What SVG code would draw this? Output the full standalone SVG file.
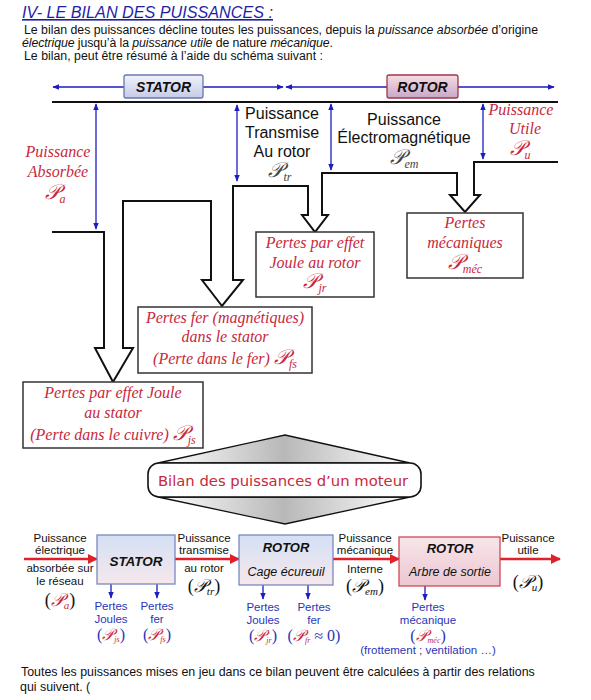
<svg xmlns="http://www.w3.org/2000/svg" width="591" height="700" viewBox="0 0 591 700">
<defs>
<style>
.s{font-family:"Liberation Sans",Arial,sans-serif;}
.r{font-family:"Liberation Serif","Times New Roman",serif;font-style:italic;fill:#c8283c;}
.pipe{fill:none;stroke:#111;stroke-width:2;}
.box{fill:#fff;stroke:#333;stroke-width:1.5;}
.blu{stroke:#1c1cc0;stroke-width:1.3;fill:none;}
.red{stroke:#e0202a;stroke-width:2.5;fill:none;}
.bt{font-family:"Liberation Sans",Arial,sans-serif;font-size:11.5px;fill:#111;text-anchor:middle;}
.bl{font-family:"Liberation Sans",Arial,sans-serif;font-size:11.5px;fill:#2a35b8;text-anchor:middle;}
.m{font-family:"Liberation Serif","Times New Roman",serif;}
</style>
<marker id="ab" viewBox="0 0 10 10" refX="9" refY="5" markerWidth="7" markerHeight="7" markerUnits="userSpaceOnUse" orient="auto-start-reverse"><path d="M0,1 L10,5 L0,9 z" fill="#1c1cc0"/></marker>
<marker id="ar" viewBox="0 0 10 10" refX="9" refY="5" markerWidth="4" markerHeight="4" orient="auto"><path d="M0,0 L10,5 L0,10 z" fill="#e0202a"/></marker>
<linearGradient id="gs" x1="0" y1="0" x2="0" y2="1"><stop offset="0" stop-color="#f0f2fa"/><stop offset="1" stop-color="#c6cbe6"/></linearGradient>
<linearGradient id="gr" x1="0" y1="0" x2="0" y2="1"><stop offset="0" stop-color="#f6dce4"/><stop offset="1" stop-color="#c8a8c8"/></linearGradient>
<linearGradient id="gb" x1="0" y1="0" x2="0" y2="1"><stop offset="0" stop-color="#d4e0f4"/><stop offset="1" stop-color="#f6e8ec"/></linearGradient>
<linearGradient id="gp" x1="0" y1="0" x2="0" y2="1"><stop offset="0" stop-color="#f8e6ea"/><stop offset="1" stop-color="#ecc6d0"/></linearGradient>
<linearGradient id="gd" x1="0" y1="0" x2="1" y2="0"><stop offset="0" stop-color="#ffffff"/><stop offset="0.5" stop-color="#b8b8b8"/><stop offset="1" stop-color="#ffffff"/></linearGradient>
</defs>
<rect width="591" height="700" fill="#fff"/>

<g id="header">
<text x="22" y="18" font-family="Liberation Sans,Arial,sans-serif" font-size="16" font-style="italic" fill="#1e1ea8" text-decoration="underline" textLength="251" lengthAdjust="spacingAndGlyphs">IV- LE BILAN DES PUISSANCES :</text>
<text class="s" x="24" y="34" font-size="12.3" fill="#111" textLength="514">Le bilan des puissances décline toutes les puissances, depuis la <tspan font-style="italic">puissance absorbée</tspan> d’origine</text>
<text class="s" x="22" y="47" font-size="12.3" fill="#111" textLength="311"><tspan font-style="italic">électrique</tspan> jusqu’à la <tspan font-style="italic">puissance utile</tspan> de nature <tspan font-style="italic">mécanique</tspan>.</text>
<text class="s" x="24" y="60" font-size="12.3" fill="#111" textLength="299">Le bilan, peut être résumé à l’aide du schéma suivant :</text>
</g>

<g id="connectors">
<line class="blu" x1="124" y1="87" x2="53" y2="87" marker-end="url(#ab)"/>
<line class="blu" x1="203" y1="87" x2="283" y2="87" marker-end="url(#ab)"/>
<line class="blu" x1="387" y1="87" x2="286" y2="87" marker-end="url(#ab)"/>
<line class="blu" x1="458" y1="87" x2="554" y2="87" marker-end="url(#ab)"/>
<line x1="52" y1="102" x2="558" y2="102" stroke="#111" stroke-width="2"/>
<line class="blu" x1="96" y1="104" x2="96" y2="229" marker-start="url(#ab)" marker-end="url(#ab)"/>
<line class="blu" x1="237" y1="105" x2="237" y2="181" marker-start="url(#ab)" marker-end="url(#ab)"/>
<line class="blu" x1="331" y1="104" x2="331" y2="170" marker-start="url(#ab)" marker-end="url(#ab)"/>
<line class="blu" x1="483" y1="104" x2="483" y2="159" marker-start="url(#ab)" marker-end="url(#ab)"/>
<path class="pipe" d="M52,232 H104 V348 H95 L113,382 L133,348 H123 V201 H211 V280 H202 L222,306 L243,280 H233 V186 H308 V215 H302 L315,232 L328,215 H322 V173 H457 V195 H450 L465,212 L480,195 H474 V162 H558"/>
<line class="red" x1="24" y1="559" x2="97" y2="559" marker-end="url(#ar)"/>
<line class="red" x1="175" y1="559" x2="239" y2="559" marker-end="url(#ar)"/>
<line class="red" x1="333" y1="559" x2="399" y2="559" marker-end="url(#ar)"/>
<line class="red" x1="500" y1="559" x2="560" y2="559" marker-end="url(#ar)"/>
<line class="blu" x1="111" y1="584" x2="111" y2="598" marker-end="url(#ab)"/>
<line class="blu" x1="157" y1="584" x2="157" y2="598" marker-end="url(#ab)"/>
<line class="blu" x1="263" y1="585" x2="263" y2="599" marker-end="url(#ab)"/>
<line class="blu" x1="308" y1="585" x2="308" y2="599" marker-end="url(#ab)"/>
<line class="blu" x1="425" y1="586" x2="425" y2="600" marker-end="url(#ab)"/>
</g>

<g id="stator-top">
<rect x="124" y="75" width="79" height="23" rx="2" fill="url(#gs)" stroke="#6878b0" stroke-width="1.3"/>
<text class="s" x="163.5" y="92" font-size="14" font-weight="bold" font-style="italic" text-anchor="middle" fill="#111">STATOR</text>
</g>
<g id="rotor-top">
<rect x="387" y="75" width="71" height="23" rx="2" fill="url(#gr)" stroke="#a03848" stroke-width="1.3"/>
<text class="s" x="422.5" y="92" font-size="14" font-weight="bold" font-style="italic" text-anchor="middle" fill="#111">ROTOR</text>
</g>

<g id="label-pa">
<text class="r" x="58" y="157" font-size="16" text-anchor="middle">Puissance</text>
<text class="r" x="58" y="177" font-size="16" text-anchor="middle">Absorbée</text>
<text class="r" x="55" y="199" font-size="21" text-anchor="middle">𝒫<tspan font-size="12" dy="4">a</tspan></text>
</g>
<g id="label-ptr">
<text class="s" x="282" y="119" font-size="16" text-anchor="middle" fill="#111">Puissance</text>
<text class="s" x="282" y="138" font-size="16" text-anchor="middle" fill="#111">Transmise</text>
<text class="s" x="282" y="157" font-size="16" text-anchor="middle" fill="#111">Au rotor</text>
<text class="m" x="280" y="177" font-size="21" font-style="italic" text-anchor="middle" fill="#444">𝒫<tspan font-size="12" dy="4">tr</tspan></text>
</g>
<g id="label-pem">
<text class="s" x="404" y="125" font-size="16" text-anchor="middle" fill="#111">Puissance</text>
<text class="s" x="404" y="143" font-size="16" text-anchor="middle" fill="#111">Électromagnétique</text>
<text class="m" x="404" y="164" font-size="21" font-style="italic" text-anchor="middle" fill="#444">𝒫<tspan font-size="12" dy="4">em</tspan></text>
</g>
<g id="label-pu">
<text class="r" x="521" y="115" font-size="16" text-anchor="middle">Puissance</text>
<text class="r" x="525" y="134" font-size="16" text-anchor="middle">Utile</text>
<text class="r" x="520" y="155" font-size="21" text-anchor="middle">𝒫<tspan font-size="12" dy="4">u</tspan></text>
</g>

<g id="box-pjr">
<rect class="box" x="256" y="232" width="118" height="65"/>
<text class="r" x="315" y="248" font-size="16" text-anchor="middle">Pertes par effet</text>
<text class="r" x="315" y="268" font-size="16" text-anchor="middle">Joule au rotor</text>
<text class="r" x="315" y="288" font-size="21" text-anchor="middle">𝒫<tspan font-size="12" dy="4">jr</tspan></text>
</g>
<g id="box-pmec">
<rect class="box" x="407" y="213" width="116" height="65"/>
<text class="r" x="465" y="228" font-size="16" text-anchor="middle">Pertes</text>
<text class="r" x="465" y="248" font-size="16" text-anchor="middle">mécaniques</text>
<text class="r" x="465" y="269" font-size="21" text-anchor="middle">𝒫<tspan font-size="12" dy="4">méc</tspan></text>
</g>
<g id="box-pfs">
<rect class="box" x="138" y="307" width="174" height="66"/>
<text class="r" x="225" y="323" font-size="16" text-anchor="middle">Pertes fer (magnétiques)</text>
<text class="r" x="225" y="342" font-size="16" text-anchor="middle">dans le stator</text>
<text class="r" x="225" y="364" font-size="16" text-anchor="middle">(Perte dans le fer)  <tspan font-size="21">𝒫</tspan><tspan font-size="12" dy="4">fs</tspan></text>
</g>
<g id="box-pjs">
<rect class="box" x="23" y="382" width="180" height="66"/>
<text class="r" x="113" y="398" font-size="16" text-anchor="middle">Pertes par effet Joule</text>
<text class="r" x="113" y="418" font-size="16" text-anchor="middle">au stator</text>
<text class="r" x="113" y="440" font-size="16" text-anchor="middle">(Perte dans le cuivre) <tspan font-size="21">𝒫</tspan><tspan font-size="12" dy="4">js</tspan></text>
</g>

<g id="bilan-title">
<path d="M158,463 L285,435 L410,463 Z" fill="url(#gd)" stroke="#111" stroke-width="1.3"/>
<path d="M158,497 L285,524 L410,497 Z" fill="url(#gd)" stroke="#111" stroke-width="1.3"/>
<rect x="148" y="463" width="273" height="34" rx="11" fill="#fff" stroke="#111" stroke-width="1.6"/>
<text x="283" y="486" font-family="DejaVu Sans,sans-serif" font-size="14.8" fill="#c8283c" text-anchor="middle">Bilan des puissances d’un moteur</text>
</g>

<g id="lbl-pa">
<text class="bt" x="60" y="542">Puissance</text>
<text class="bt" x="60" y="554">électrique</text>
<text class="bt" x="60" y="572">absorbée sur</text>
<text class="bt" x="60" y="585">le réseau</text>
<text class="m" x="60" y="606" font-size="18" text-anchor="middle" fill="#111">(<tspan fill="#c8283c" font-style="italic">𝒫<tspan font-size="11" dy="3">a</tspan></tspan><tspan dy="-3">)</tspan></text>
</g>
<g id="stator-bot">
<rect x="97" y="535" width="78" height="49" fill="url(#gb)" stroke="#7888c0" stroke-width="1.3"/>
<text class="s" x="136" y="566" font-size="13.5" font-weight="bold" font-style="italic" text-anchor="middle" fill="#111">STATOR</text>
</g>
<g id="lbl-pjs">
<text class="bl" x="111" y="610">Pertes</text>
<text class="bl" x="111" y="623">Joules</text>
<text class="m" x="111" y="640" font-size="16" text-anchor="middle" fill="#2a35b8">(<tspan fill="#c8283c" font-style="italic">𝒫<tspan font-size="8" dy="2">js</tspan></tspan><tspan dy="-2">)</tspan></text>
</g>
<g id="lbl-pfs">
<text class="bl" x="157" y="610">Pertes</text>
<text class="bl" x="157" y="623">fer</text>
<text class="m" x="157" y="640" font-size="16" text-anchor="middle" fill="#2a35b8">(<tspan fill="#c8283c" font-style="italic">𝒫<tspan font-size="8" dy="2">fs</tspan></tspan><tspan dy="-2">)</tspan></text>
</g>
<g id="lbl-ptr">
<text class="bt" x="204" y="542">Puissance</text>
<text class="bt" x="204" y="554">transmise</text>
<text class="bt" x="204" y="572">au rotor</text>
<text class="m" x="204" y="592" font-size="18" text-anchor="middle" fill="#111">(<tspan font-style="italic">𝒫<tspan font-size="11" dy="3">tr</tspan></tspan><tspan dy="-3">)</tspan></text>
</g>
<g id="rotor-cage">
<rect x="239" y="535" width="94" height="50" fill="url(#gb)" stroke="#7888c0" stroke-width="1.3"/>
<text class="s" x="286" y="552" font-size="13" font-weight="bold" font-style="italic" text-anchor="middle" fill="#111">ROTOR</text>
<text class="s" x="286" y="576" font-size="12.5" font-style="italic" text-anchor="middle" fill="#111">Cage écureuil</text>
</g>
<g id="lbl-pjr">
<text class="bl" x="263" y="611">Pertes</text>
<text class="bl" x="263" y="624">Joules</text>
<text class="m" x="263" y="641" font-size="16" text-anchor="middle" fill="#2a35b8">(<tspan fill="#c8283c" font-style="italic">𝒫<tspan font-size="8" dy="2">jr</tspan></tspan><tspan dy="-2">)</tspan></text>
</g>
<g id="lbl-pfr">
<text class="bl" x="314" y="611">Pertes</text>
<text class="bl" x="314" y="624">fer</text>
<text class="m" x="314" y="641" font-size="16" text-anchor="middle" fill="#2a35b8">(<tspan fill="#c8283c" font-style="italic">𝒫<tspan font-size="8" dy="2">fr</tspan></tspan><tspan dy="-2"> ≈ 0)</tspan></text>
</g>
<g id="lbl-pem">
<text class="bt" x="365" y="542">Puissance</text>
<text class="bt" x="365" y="554">mécanique</text>
<text class="bt" x="365" y="573">Interne</text>
<text class="m" x="365" y="592" font-size="18" text-anchor="middle" fill="#111">(<tspan font-style="italic">𝒫<tspan font-size="11" dy="3">em</tspan></tspan><tspan dy="-3">)</tspan></text>
</g>
<g id="rotor-arbre">
<rect x="399" y="537" width="101" height="49" fill="url(#gp)" stroke="#d04858" stroke-width="1.3"/>
<text class="s" x="450" y="553" font-size="13" font-weight="bold" font-style="italic" text-anchor="middle" fill="#111">ROTOR</text>
<text class="s" x="450" y="576" font-size="12.5" font-style="italic" text-anchor="middle" fill="#111">Arbre de sortie</text>
</g>
<g id="lbl-pmec">
<text class="bl" x="428" y="611">Pertes</text>
<text class="bl" x="428" y="624">mécanique</text>
<text class="m" x="428" y="641" font-size="16" text-anchor="middle" fill="#2a35b8">(<tspan fill="#c8283c" font-style="italic">𝒫<tspan font-size="8" dy="2">méc</tspan></tspan><tspan dy="-2">)</tspan></text>
<text class="bl" x="428" y="654" font-size="11">(frottement ; ventilation …)</text>
</g>
<g id="lbl-pu">
<text class="bt" x="528" y="542">Puissance</text>
<text class="bt" x="528" y="554">utile</text>
<text class="m" x="528" y="588" font-size="18" text-anchor="middle" fill="#111">(<tspan font-style="italic">𝒫<tspan font-size="11" dy="3">u</tspan></tspan><tspan dy="-3">)</tspan></text>
</g>

<g id="footer">
<text class="s" x="21" y="676" font-size="12.4" fill="#111"> Toutes les puissances mises en jeu dans ce bilan peuvent être calculées à partir des relations</text>
<text class="s" x="20" y="691" font-size="12.4" fill="#111">qui suivent. (</text>
</g>
</svg>
